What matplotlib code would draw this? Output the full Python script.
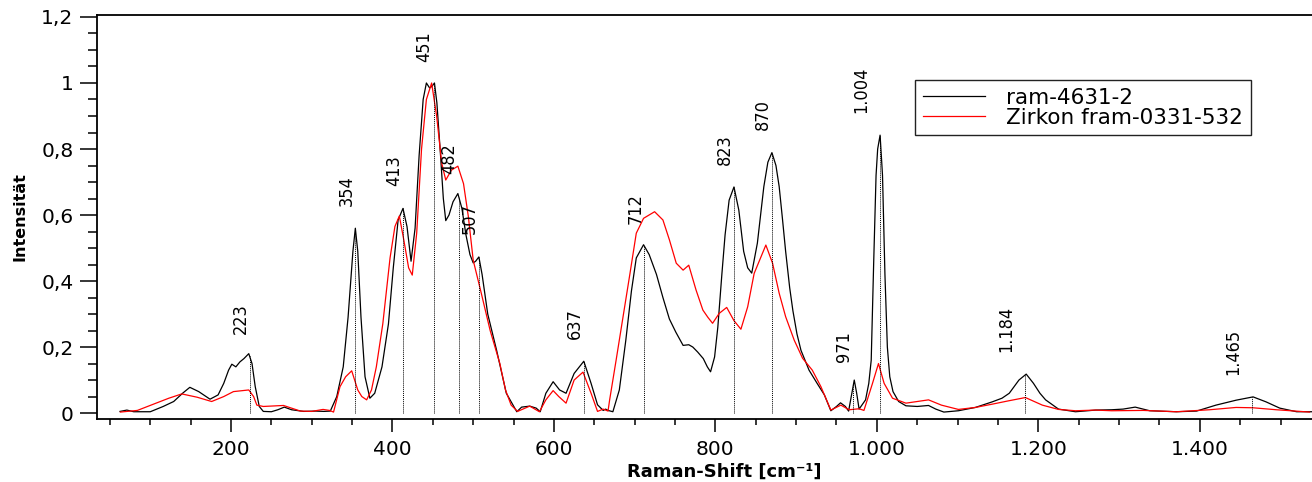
import numpy as np
import matplotlib
matplotlib.use('Agg')
import matplotlib.pyplot as plt
from matplotlib.ticker import MultipleLocator, FuncFormatter

# Spectrum ram-4631-2 (black)
ram_x = [62.5, 71, 79.5, 100, 116, 129, 140, 149, 160, 174, 184, 191, 197, 201, 206,
         211, 216, 222, 226, 230, 235, 240, 250, 258, 266, 275, 290, 305, 315, 323,
         331, 339, 345, 351, 354, 357, 361, 366, 372, 378, 387, 395, 401, 407, 413,
         418, 423, 428, 433, 438, 442, 446, 449, 452, 455, 459, 463, 466, 470, 475,
         481, 486, 491, 496, 500, 503, 507, 511, 518, 529, 541, 554, 560, 570, 578,
         583, 590, 599, 607, 615, 625, 637, 646, 654, 661, 664, 667, 673, 681, 689,
         696, 702, 711, 718, 727, 735, 743, 751, 760, 767, 772, 778, 785, 790, 794,
         799, 803, 808, 812, 817, 823, 829, 835, 840, 845, 852, 860, 865, 870, 875,
         879, 883, 887, 892, 896, 901, 906, 916, 926, 935, 943, 950, 955, 961, 965,
         969, 972, 975, 978, 986, 990, 993, 996, 999, 1001, 1004, 1007, 1010, 1013,
         1016, 1020, 1027, 1036, 1050, 1064, 1073, 1083, 1101, 1122, 1143, 1155,
         1164, 1176, 1185, 1194, 1202, 1209, 1225, 1246, 1271, 1291, 1305, 1320,
         1338, 1371, 1396, 1420, 1445, 1466, 1482, 1499, 1520, 1540]
ram_y = [0.005, 0.009, 0.004, 0.004, 0.02, 0.035, 0.06, 0.078, 0.065, 0.042, 0.055, 0.09, 0.13, 0.148, 0.14,
         0.155, 0.165, 0.18, 0.15, 0.08, 0.02, 0.005, 0.004, 0.01, 0.018, 0.01, 0.005, 0.006, 0.005, 0.006,
         0.05, 0.14, 0.29, 0.49, 0.56, 0.49, 0.29, 0.11, 0.045, 0.06, 0.14, 0.27, 0.44, 0.585, 0.62,
         0.565, 0.46, 0.56, 0.78, 0.95, 1.0, 0.985, 0.99, 1.0, 0.94, 0.8, 0.65, 0.583, 0.6, 0.64,
         0.665, 0.62, 0.54, 0.48, 0.455, 0.46, 0.473, 0.42, 0.3, 0.19, 0.06, 0.004, 0.018, 0.021, 0.015,
         0.004, 0.06, 0.095, 0.07, 0.06, 0.12, 0.157, 0.09, 0.025, 0.008, 0.012, 0.008, 0.004, 0.07, 0.22,
         0.37, 0.47, 0.51, 0.48, 0.42, 0.35, 0.285, 0.245, 0.205, 0.207, 0.2, 0.185, 0.165, 0.14, 0.125,
         0.17, 0.26, 0.42, 0.54, 0.645, 0.685, 0.615, 0.49, 0.44, 0.424, 0.515, 0.686, 0.76, 0.789, 0.75,
         0.686, 0.59, 0.49, 0.38, 0.31, 0.24, 0.19, 0.13, 0.09, 0.055, 0.007, 0.02, 0.031, 0.02, 0.006,
         0.06, 0.1, 0.06, 0.012, 0.04, 0.09, 0.16, 0.45, 0.72, 0.80, 0.842, 0.72, 0.42, 0.2,
         0.11, 0.065, 0.035, 0.022, 0.02, 0.023, 0.012, 0.003, 0.007, 0.017, 0.034, 0.045,
         0.06, 0.1, 0.118, 0.09, 0.06, 0.04, 0.012, 0.004, 0.009, 0.01, 0.012, 0.018,
         0.007, 0.004, 0.006, 0.024, 0.039, 0.049, 0.034, 0.015, 0.004, 0.004]

# Reference Zirkon fram-0331-532 (red)
zirkon_x = [63, 84, 104, 123, 139, 158, 176, 191, 203, 222, 228, 232, 240, 265, 286,
            300, 314, 322, 327, 335, 342, 349.5, 357, 362, 368, 374, 380, 388, 397, 403,
            408.5, 414, 420, 424.5, 430, 436, 442, 448.5, 454.7, 461, 466, 473, 481, 488,
            494, 500, 510, 521, 533, 540, 547, 555, 570, 582, 590, 599, 606, 615, 625,
            636, 646, 654, 661, 667, 669, 677, 685.5, 694, 702, 711, 724.7, 735, 743,
            751.5, 760, 767, 776, 784.5, 790.7, 796.5, 804.7, 814, 823, 831.6, 840, 848,
            862.5, 870.8, 879, 887, 897.6, 908, 920, 930.7, 943, 955.4, 965.7, 978, 984,
            994.6, 1002, 1009, 1019.4, 1036, 1064, 1080, 1101, 1122, 1143, 1163, 1184,
            1205, 1225, 1246, 1271, 1291, 1330, 1371, 1412, 1445, 1466, 1495, 1536]
zirkon_y = [0.003, 0.008, 0.027, 0.045, 0.058, 0.048, 0.035, 0.05, 0.065, 0.07, 0.05, 0.024, 0.02, 0.023, 0.006,
            0.005, 0.011, 0.008, 0.003, 0.08, 0.11, 0.128, 0.07, 0.05, 0.04, 0.07, 0.14, 0.27, 0.47, 0.565,
            0.597, 0.525, 0.44, 0.418, 0.545, 0.8, 0.95, 1.0, 0.9, 0.757, 0.706, 0.736, 0.748, 0.695,
            0.595, 0.463, 0.363, 0.25, 0.15, 0.07, 0.024, 0.005, 0.021, 0.004, 0.04, 0.068, 0.05, 0.03, 0.1,
            0.124, 0.06, 0.005, 0.012, 0.006, 0.04, 0.16, 0.29, 0.42, 0.545, 0.59, 0.61, 0.585, 0.525,
            0.454, 0.433, 0.448, 0.373, 0.312, 0.29, 0.272, 0.302, 0.32, 0.28, 0.254, 0.322, 0.423,
            0.509, 0.454, 0.363, 0.292, 0.221, 0.166, 0.13, 0.08, 0.009, 0.024, 0.01, 0.013, 0.008,
            0.09, 0.15, 0.09, 0.045, 0.03, 0.04, 0.024, 0.011, 0.017, 0.027, 0.037, 0.047,
            0.024, 0.011, 0.007, 0.009, 0.007, 0.008, 0.004, 0.01, 0.017, 0.016, 0.01, 0.003]

# labelled peak positions
peaks = [223, 354, 413, 451, 482, 507, 637, 712, 823, 870, 971, 1004, 1184, 1465]


def de_int(v, pos=None):
    return f"{int(round(v)):,}".replace(",", ".")


def de_dec(v, pos=None):
    s = f"{v:.2f}".rstrip("0").rstrip(".")
    return s.replace(".", ",")


fig = plt.figure(figsize=(13.12, 4.82), dpi=100)
ax = fig.add_axes([97 / 1312, 1 - 419 / 482, 1 - 97 / 1312, 404 / 482])

ax.plot(ram_x, ram_y, color="black", lw=0.9, label="ram-4631-2")
ax.plot(zirkon_x, zirkon_y, color="#ff0000", lw=0.9, label="Zirkon fram-0331-532")

heights = np.interp(peaks, ram_x, ram_y)
ax.vlines(peaks, 0, heights, colors="black", linestyles=(0, (1, 1)), lw=0.7)

for p, h in zip(peaks, heights):
    dx = -10 if p >= 1000 else 0
    ax.annotate(de_int(p), (p, h + 0.068), xytext=(dx, 0), textcoords="offset pixels",
                rotation=90, ha="right", va="bottom", fontsize=13,
                family="DejaVu Sans", fontstretch="condensed")

ax.set_xlim(34, 1539)
ax.set_ylim(-0.018, 1.206)

ax.xaxis.set_major_locator(MultipleLocator(200))
ax.xaxis.set_minor_locator(MultipleLocator(50))
ax.yaxis.set_major_locator(MultipleLocator(0.2))
ax.yaxis.set_minor_locator(MultipleLocator(0.05))
ax.xaxis.set_major_formatter(FuncFormatter(de_int))
ax.yaxis.set_major_formatter(FuncFormatter(de_dec))

ax.tick_params(axis="x", which="major", length=9, width=1.1, pad=6, labelsize=14.5, direction="out")
ax.tick_params(axis="x", which="minor", length=4.5, width=1.1, direction="out")
ax.tick_params(axis="y", which="major", length=12, width=1.1, pad=5, labelsize=14.5, direction="out")
ax.tick_params(axis="y", which="minor", length=6.5, width=1.1, direction="out")
ax.tick_params(top=False, right=False, which="both")

ax.spines["right"].set_visible(False)
for s in ["left", "bottom", "top"]:
    ax.spines[s].set_linewidth(1.3)

ax.set_xlabel("Raman-Shift [cm⁻¹]", fontsize=13, fontweight="bold")
ax.xaxis.set_label_coords(0.516, -0.108)
ax.set_ylabel("Intensität", fontsize=11.5, fontweight="bold")
ax.yaxis.set_label_coords(-0.057, 0.5)

leg = ax.legend(loc="upper left", bbox_to_anchor=(915 / 1312, 1 - 80 / 482),
                bbox_transform=fig.transFigure, fontsize=15.5, frameon=True,
                fancybox=False, framealpha=1, edgecolor="#222222",
                handlelength=2.9, handletextpad=1.0, labelspacing=0.0,
                borderpad=0.35, borderaxespad=0)
leg.get_frame().set_linewidth(1.0)

fig.savefig("out.png", dpi=100)
